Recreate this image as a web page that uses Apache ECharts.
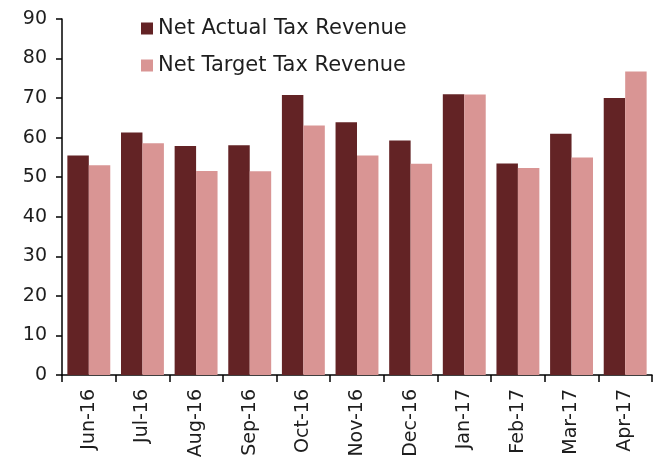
<!DOCTYPE html>
<html>
<head>
<meta charset="utf-8">
<script src="https://cdn.jsdelivr.net/npm/echarts@6/dist/echarts.min.js"></script>
<style>
  html, body { margin: 0; padding: 0; background: #fff; }
  #chart { width: 659px; height: 461px; }
</style>
</head>
<body>
<div id="chart"></div>
<script>
var months = ["Jun-16", "Jul-16", "Aug-16", "Sep-16", "Oct-16", "Nov-16",
  "Dec-16", "Jan-17", "Feb-17", "Mar-17", "Apr-17"];
var actualRevenue = [55.5, 61.3, 57.9, 58.1, 70.8, 63.9, 59.3, 71.0, 53.5, 61.0, 70.0];
var targetRevenue = [53.0, 58.6, 51.6, 51.5, 63.1, 55.5, 53.4, 70.9, 52.3, 55.0, 76.7];
var yTicks = [0, 10, 20, 30, 40, 50, 60, 70, 80, 90];

var font = "'DejaVu Sans', sans-serif";
var chart = echarts.init(document.getElementById("chart"));
chart.setOption({
  animation: false,
  textStyle: { fontFamily: font },
  grid: { left: 62, right: 7, top: 19, bottom: 86, containLabel: false },
  legend: {
    orient: "vertical",
    left: 141,
    top: 18,
    padding: 0,
    itemWidth: 12,
    itemHeight: 12,
    itemGap: 16,
    icon: "rect",
    textStyle: { fontFamily: font, fontSize: 21, color: "#1e1e1e" },
    data: ["Net Actual Tax Revenue", "Net Target Tax Revenue"]
  },
  xAxis: {
    type: "category",
    data: months,
    axisLine: { lineStyle: { color: "#000", width: 1.5 } },
    axisTick: { show: true, length: 7, alignWithLabel: false, lineStyle: { color: "#000", width: 1.5 } },
    axisLabel: { rotate: 90, fontSize: 19, color: "#1e1e1e", margin: 14, interval: 0 }
  },
  yAxis: {
    type: "value",
    min: yTicks[0],
    max: yTicks[yTicks.length - 1],
    interval: 10,
    splitLine: { show: false },
    axisLine: { show: true, lineStyle: { color: "#000", width: 1.5 } },
    axisTick: { show: true, length: 6, lineStyle: { color: "#000", width: 1.5 } },
    axisLabel: { fontSize: 19, color: "#1e1e1e", margin: 15 }
  },
  series: [
    {
      name: "Net Actual Tax Revenue",
      type: "bar",
      data: actualRevenue,
      barGap: "0%",
      barCategoryGap: "20%",
      itemStyle: { color: "#632325" }
    },
    {
      name: "Net Target Tax Revenue",
      type: "bar",
      data: targetRevenue,
      itemStyle: { color: "#d99594" }
    }
  ]
});
</script>
</body>
</html>
